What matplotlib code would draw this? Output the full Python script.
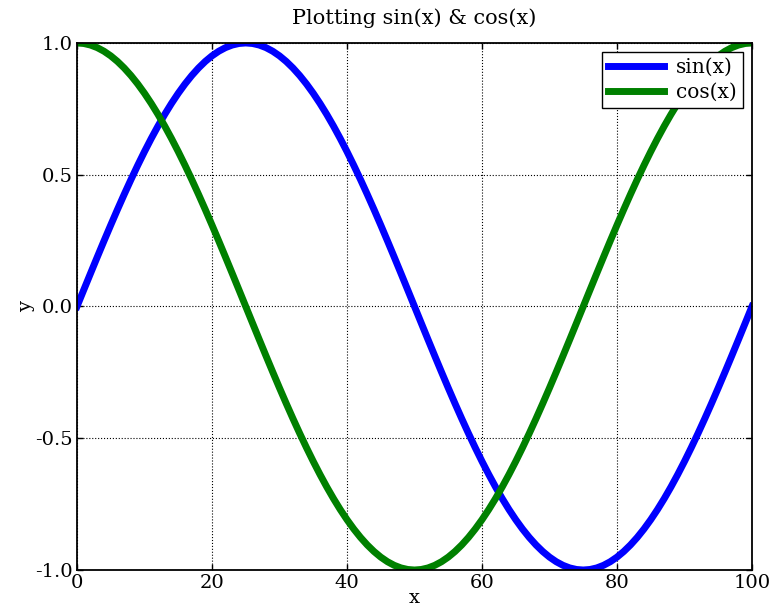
import numpy as np
import matplotlib
matplotlib.use("Agg")
import matplotlib.pyplot as plt

plt.rcParams['font.family'] = ['DejaVu Serif']
plt.rcParams['axes.unicode_minus'] = False

# Data: the chart plots sin and cos over one period sampled at 101 points
x = np.arange(0, 101)
phase = 2 * np.pi * x / 100
sin_vals = np.sin(phase)
cos_vals = np.cos(phase)

series_labels = ["sin(x)", "cos(x)"]
x_ticks = [0, 20, 40, 60, 80, 100]
y_ticks = [-1.0, -0.5, 0.0, 0.5, 1.0]
y_tick_labels = ["-1.0", "-0.5", "0.0", "0.5", "1.0"]

fig = plt.figure(figsize=(7.8, 6.06), dpi=100)
ax = fig.add_axes([0.0987, 0.0594, 0.8654, 0.8697])

ax.plot(x, sin_vals, color='#0000ff', lw=5, label=series_labels[0])
ax.plot(x, cos_vals, color='#008000', lw=5, label=series_labels[1])

ax.set_xlim(0, 100)
ax.set_ylim(-1.0, 1.0)
ax.set_xticks(x_ticks)
ax.set_yticks(y_ticks)
ax.set_yticklabels(y_tick_labels)
ax.tick_params(direction='in', length=4, width=1, pad=3, labelsize=14,
               top=True, right=True)
ax.grid(True, color='black', linestyle=':', linewidth=0.8)
for s in ax.spines.values():
    s.set_linewidth(1.3)

ax.set_title("Plotting sin(x) & cos(x)", fontsize=15, pad=14)
ax.set_xlabel("x", fontsize=14, labelpad=-2)
ax.set_ylabel("y", fontsize=14, labelpad=0)

leg = ax.legend(loc='upper right', fontsize=14.5, fancybox=False, framealpha=1,
                edgecolor='black', handlelength=2.8, borderpad=0.3,
                labelspacing=0.3, borderaxespad=0.45, handletextpad=0.6)
leg.get_frame().set_linewidth(1.0)

fig.savefig("out.png", dpi=100)
